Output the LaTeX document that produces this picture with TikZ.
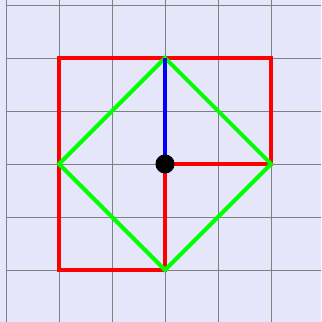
\documentclass[tikz,border=0pt]{standalone}
\definecolor{lav}{RGB}{230,230,250}

\begin{document}
\begin{tikzpicture}[line width=2.1pt,x=1cm,y=1cm]
% background and grid
\fill[lav] (-3.113,-2.981) rectangle (2.943,3.094);
\useasboundingbox (-3.113,-2.981) rectangle (2.943,3.094);
\begin{scope}
\clip (-3.113,-2.981) rectangle (2.943,3.094);
\draw[gray,line width=0.5pt] (-3,-3) grid (4,4);
\end{scope}
% red path
\draw[red,line join=miter] (0,0) -- (2,0) -- (2,2) -- (-2,2) -- (-2,-2) -- (0,-2) -- cycle;
% green diamond
\draw[green] (0,2) -- (2,0) -- (0,-2) -- (-2,0) -- cycle;
% blue segment
\draw[blue] (0,0) -- (0,2);
% centre point
\fill[black] (0,0) circle (0.18);
\end{tikzpicture}
\end{document}
